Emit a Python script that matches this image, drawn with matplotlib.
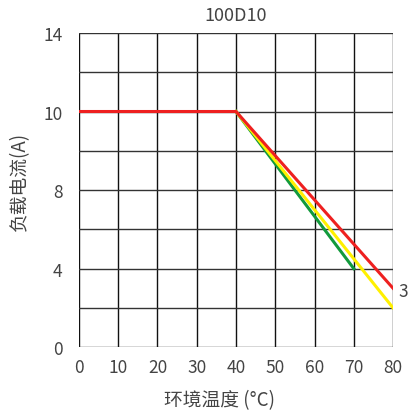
import numpy as np
import matplotlib
matplotlib.use("Agg")
import matplotlib.pyplot as plt

plt.rcParams['font.family'] = ['Noto Sans CJK SC', 'DejaVu Sans']

# derating curves
red_x = [0, 40, 80]
red_y = [10, 10, 3]
yellow_x = [40, 80]
yellow_y = [10, 2]
green_x = [40, 70]
green_y = [10, 4]

x_ticks = [0, 10, 20, 30, 40, 50, 60, 70, 80]
y_labels = [0, 4, 8, 10, 14]
y_grid = [0, 2, 4, 6, 8, 9, 10, 12, 14]

# the y axis is not linear: labelled values sit at equal spacing
y_vals = np.array([0, 4, 8, 10, 14], dtype=float)
y_pos = np.array([0, 2, 4, 6, 8], dtype=float)


def fwd(v):
    return np.interp(v, y_vals, y_pos)


def inv(p):
    return np.interp(p, y_pos, y_vals)


fig = plt.figure(figsize=(4.09, 4.14), dpi=100)
ax = fig.add_axes([0.193, 0.159, 0.768, 0.759])
ax.set_yscale('function', functions=(fwd, inv))

ax.set_xlim(0, 80)
ax.set_ylim(0, 14)

for gx in x_ticks:
    ax.axvline(gx, color='#111111', lw=1, zorder=1)
for gy in y_grid:
    ax.axhline(gy, color='#333333', lw=1, zorder=1)

ax.plot(green_x, green_y, color='#129a3c', lw=2.2, zorder=3)
ax.plot(yellow_x, yellow_y, color='#fff000', lw=2.2, zorder=4)
ax.plot(red_x, red_y, color='#ee2020', lw=2.2, zorder=5)

txt = '#444444'
ax.text(81.5, 2.85, '3', color=txt, fontsize=12.5, ha='left', va='center',
        clip_on=False)

ax.set_xticks(x_ticks)
ax.set_yticks(y_labels)
ax.set_yticklabels([str(v) for v in y_labels])
ax.tick_params(length=0, labelsize=12.5, colors=txt, pad=8)
ax.tick_params(axis='y', pad=12)

for s in ax.spines.values():
    s.set_visible(False)

ax.set_title('100D10', fontsize=13, color=txt, pad=9)
ax.set_xlabel('环境温度 (°C)', fontsize=13.5, color=txt)
ax.set_ylabel('负载电流(A)', fontsize=13.5, color=txt)
ax.xaxis.set_label_coords(0.449, -0.135)
ax.yaxis.set_label_coords(-0.156, 0.532)

fig.savefig('out.png', dpi=100)
